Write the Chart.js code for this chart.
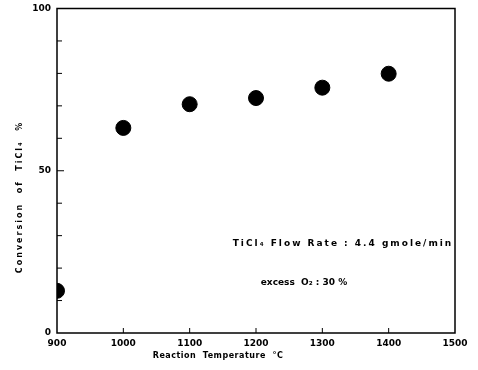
<!DOCTYPE html>
<html>
<head>
<meta charset="utf-8">
<script src="https://cdn.jsdelivr.net/npm/chart.js@4.4.0/dist/chart.umd.min.js"></script>
<style>
  html, body { margin: 0; padding: 0; background: #fff; }
  #wrap { width: 478px; height: 370px; }
</style>
</head>
<body>
<div id="wrap"><canvas id="grafico" width="478" height="370"></canvas></div>
<script>
// reaction temperature (°C) and conversion of TiCl4 (%)
const temps = [900, 1000, 1100, 1200, 1300, 1400]
const conversion = [13.0, 63.2, 70.5, 72.4, 75.6, 79.9]
const xTicks = [900, 1000, 1100, 1200, 1300, 1400, 1500]
const yTicks = [0, 50, 100]
const notes = ['TiCl\u2084 Flow Rate : 4.4 gmole/min', 'excess  O\u2082 : 30 %']
const xTitle = 'Reaction  Temperature  \u00B0C'
const yTitle = 'Conversion  of  TiCl\u2084  %'

const fnt = 'bold 9px "DejaVu Sans", sans-serif'

// inward tick marks, frame, axis titles and the flow-rate note
const extras = {
    id: 'extras',
    afterDraw(chart) {
        const c = chart.ctx
        const a = chart.chartArea
        const x = chart.scales.x, y = chart.scales.y
        c.save()
        c.strokeStyle = '#000'
        c.lineWidth = 1.5
        c.strokeRect(a.left, a.top, a.right - a.left, a.bottom - a.top)
        c.lineWidth = 1
        for (let v = 10; v < 100; v += 10) {
            const py = y.getPixelForValue(v)
            c.beginPath()
            c.moveTo(a.left, py)
            c.lineTo(a.left + (v == 50 ? 7 : 5), py)
            c.stroke()
        }
        for (let v = 1000; v < 1500; v += 100) {
            const px = x.getPixelForValue(v)
            c.beginPath()
            c.moveTo(px, a.bottom)
            c.lineTo(px, a.bottom - 5)
            c.stroke()
        }
        c.fillStyle = '#000'
        c.font = fnt
        c.textAlign = 'center'
        c.textBaseline = 'middle'
        c.letterSpacing = '2px'
        c.fillText(notes[0], 343, y.getPixelForValue(27.5))
        c.letterSpacing = '0px'
        c.fillText(notes[1], 304, y.getPixelForValue(15.5))
        c.font = 'bold 8px "DejaVu Sans", sans-serif'
        c.letterSpacing = '0.5px'
        c.fillText(xTitle, 218, 356)
        c.translate(20, 197)
        c.rotate(-Math.PI / 2)
        c.letterSpacing = '2px'
        c.fillText(yTitle, 0, 0)
        c.restore()
    }
}

const grf = document.getElementById('grafico').getContext('2d')

new Chart(grf, {
    type: 'scatter',
    data: {
        datasets: [{
            data: temps.map((t, i) => ({ x: t, y: conversion[i] })),
            pointRadius: 7.5,
            pointHoverRadius: 7.5,
            backgroundColor: '#000',
            borderColor: '#000'
        }]
    },
    options: {
        responsive: false,
        animation: false,
        layout: { padding: { top: 7, right: 23, left: 0, bottom: 0 } },
        plugins: { legend: { display: false }, tooltip: { enabled: false } },
        scales: {
            x: {
                type: 'linear',
                min: 900,
                max: 1500,
                afterBuildTicks: s => { s.ticks = xTicks.map(v => ({ value: v })) },
                afterFit: s => { s.height = 37; s.paddingLeft = 0; s.paddingRight = 0 },
                grid: { display: false, drawTicks: false },
                border: { display: false },
                ticks: { color: '#000', font: { family: '"DejaVu Sans", sans-serif', size: 9, weight: 'bold' }, padding: 5, maxRotation: 0, callback: v => String(v) }
            },
            y: {
                min: 0,
                max: 100,
                afterBuildTicks: s => { s.ticks = yTicks.map(v => ({ value: v })) },
                afterFit: s => { s.width = 57; s.paddingTop = 0; s.paddingBottom = 0 },
                grid: { display: false, drawTicks: false },
                border: { display: false },
                ticks: { color: '#000', font: { family: '"DejaVu Sans", sans-serif', size: 9, weight: 'bold' }, padding: 6 }
            }
        }
    },
    plugins: [extras]
})
</script>
</body>
</html>
